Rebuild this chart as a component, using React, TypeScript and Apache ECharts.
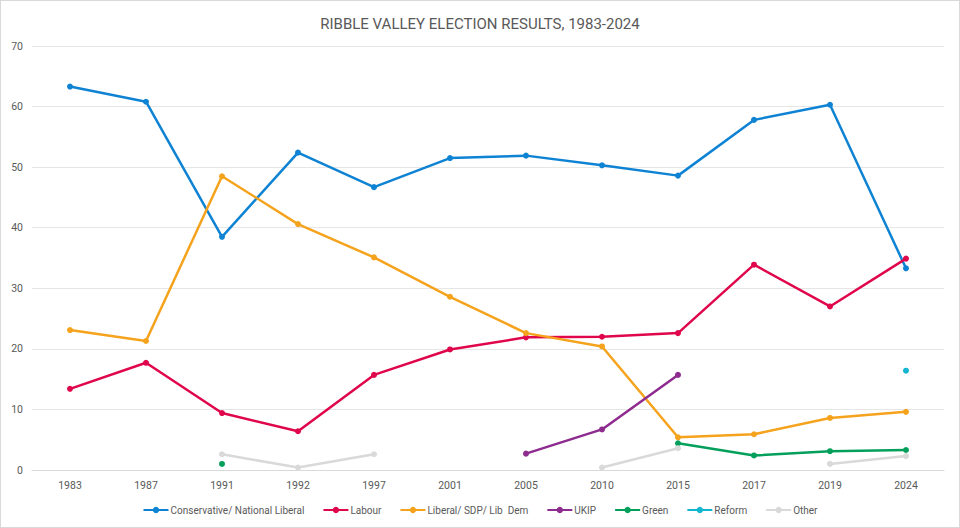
import React, { useEffect, useRef } from "react";
import * as echarts from "echarts";

const years = ["1983", "1987", "1991", "1992", "1997", "2001", "2005", "2010", "2015", "2017", "2019", "2024"];
const conservative = [63.3, 60.8, 38.5, 52.4, 46.7, 51.5, 51.9, 50.3, 48.6, 57.8, 60.3, 33.3];
const labour = [13.4, 17.7, 9.4, 6.4, 15.7, 19.9, 21.9, 22.0, 22.6, 33.9, 27.0, 34.9];
const libDem = [23.1, 21.3, 48.5, 40.6, 35.1, 28.6, 22.6, 20.4, 5.4, 5.9, 8.6, 9.6];
const ukip = [null, null, null, null, null, null, 2.7, 6.7, 15.7, null, null, null];
const green = [null, null, 1.0, null, null, null, null, null, 4.4, 2.4, 3.1, 3.3];
const reform = [null, null, null, null, null, null, null, null, null, null, null, 16.4];
const other = [null, null, 2.6, 0.4, 2.6, null, null, 0.4, 3.6, null, 1.0, 2.3];

const seriesDefs = [
  { name: "Conservative/ National Liberal", data: conservative, color: "#0f83d3" },
  { name: "Labour", data: labour, color: "#e0064c" },
  { name: "Liberal/ SDP/ Lib  Dem", data: libDem, color: "#f5a31d" },
  { name: "UKIP", data: ukip, color: "#8e2b8e" },
  { name: "Green", data: green, color: "#04a05b" },
  { name: "Reform", data: reform, color: "#14b5d0" },
  { name: "Other", data: other, color: "#d9d9d9" },
];

export default function App() {
  const ref = useRef<HTMLDivElement>(null);
  useEffect(() => {
    document.body.style.margin = "0";
    const chart = echarts.init(ref.current!, null, { renderer: "svg" });
    chart.setOption({
      animation: false,
      backgroundColor: "#ffffff",
      title: {
        text: "RIBBLE VALLEY ELECTION RESULTS, 1983-2024",
        left: "center",
        top: 10,
        textStyle: { color: "#595959", fontSize: 15, fontWeight: "normal", fontFamily: "Roboto, sans-serif" },
      },
      grid: { left: 31, right: 15, top: 45, bottom: 57, containLabel: false },
      legend: {
        bottom: 7,
        left: "center",
        itemWidth: 25,
        itemHeight: 8,
        itemGap: 18,
        textStyle: { color: "#595959", fontSize: 10, fontFamily: "Roboto, sans-serif", padding: [0, 0, 0, -3] },
        data: seriesDefs.map((s) => s.name),
      },
      xAxis: {
        type: "category",
        data: years,
        boundaryGap: true,
        axisLine: { lineStyle: { color: "#d9d9d9" } },
        axisTick: { show: false },
        axisLabel: { color: "#595959", fontSize: 10.5, margin: 10, fontFamily: "Roboto, sans-serif" },
      },
      yAxis: {
        type: "value",
        min: 0,
        max: 70,
        interval: 10,
        axisLine: { show: false },
        axisTick: { show: false },
        axisLabel: { color: "#595959", fontSize: 10.5, margin: 9, fontFamily: "Roboto, sans-serif" },
        splitLine: { lineStyle: { color: "#e6e6e6" } },
      },
      series: seriesDefs.map((s) => ({
        name: s.name,
        type: "line",
        data: s.data,
        connectNulls: false,
        symbol: "circle",
        symbolSize: 6,
        showSymbol: true,
        itemStyle: { color: s.color },
        lineStyle: { color: s.color, width: 2.5 },
      })),
    });
    return () => chart.dispose();
  }, []);
  return (
    <div
      ref={ref}
      style={{ width: 958, height: 526, border: "1px solid #d9d9d9", background: "#fff" }}
    />
  );
}
